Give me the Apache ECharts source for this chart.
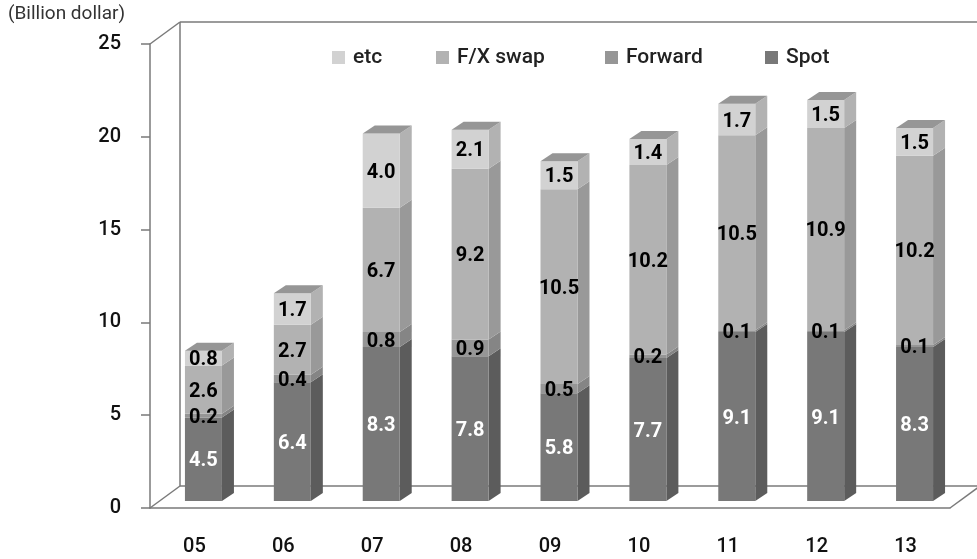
<!DOCTYPE html>
<html>
<head>
<meta charset="utf-8">
<style>
html,body{margin:0;padding:0;background:#fff}
#chart{width:977px;height:559px}
</style>
<script src="https://cdn.jsdelivr.net/npm/echarts@6/dist/echarts.min.js"></script>
</head>
<body>
<div id="chart"></div>
<script>
const years = ['05','06','07','08','09','10','11','12','13'];
const spot = [4.5,6.4,8.3,7.8,5.8,7.7,9.1,9.1,8.3];
const forward = [0.2,0.4,0.8,0.9,0.5,0.2,0.1,0.1,0.1];
const swap = [2.6,2.7,6.7,9.2,10.5,10.2,10.5,10.9,10.2];
const etc = [0.8,1.7,4.0,2.1,1.5,1.4,1.7,1.5,1.5];

const AXIS_GREY = '#7a7a7a';
const FONT = 'Roboto, "Noto Sans", sans-serif';
// floor depth of the fake 3d box, and where the bars sit in it
const WALL_DX = 30, WALL_DY = -22;
const BAR_DX = 9, BAR_DY = -7, BAR_W = 37, SIDE_DX = 12, SIDE_DY = -8;

const chart = echarts.init(document.querySelector('#chart'));

// back wall and floor, drawn from the grid rect
function renderFrame(params, api) {
    const r = params.coordSys;
    const l = r.x, t = r.y, b = r.y + r.height, e = r.x + r.width;
    const line = (x1, y1, x2, y2) => ({
        type: 'line',
        shape: {x1, y1, x2, y2},
        style: {stroke: AXIS_GREY, lineWidth: 1.5}
    });
    return {
        type: 'group',
        children: [
            line(l, t, l + WALL_DX, t + WALL_DY),
            line(l + WALL_DX, t + WALL_DY, e + WALL_DX, t + WALL_DY),
            line(l + WALL_DX, t + WALL_DY, l + WALL_DX, b + WALL_DY),
            line(l + WALL_DX, b + WALL_DY, e + WALL_DX, b + WALL_DY),
            line(l, b, l + WALL_DX, b + WALL_DY),
            line(e, b, e + WALL_DX, b + WALL_DY)
        ]
    };
}

function barRenderer(front, side, textColor, withCap) {
    return function (params, api) {
        const p0 = api.coord([api.value(0), api.value(1)]);
        const p1 = api.coord([api.value(0), api.value(2)]);
        const x1 = p0[0] + BAR_DX - BAR_W / 2, x2 = x1 + BAR_W;
        const y0 = p0[1] + BAR_DY, y1 = p1[1] + BAR_DY;
        const children = [
            {
                type: 'polygon',
                shape: {points: [[x2, y0], [x2 + SIDE_DX, y0 + SIDE_DY], [x2 + SIDE_DX, y1 + SIDE_DY], [x2, y1]]},
                style: {fill: side}
            },
            {
                type: 'rect',
                shape: {x: x1, y: y1, width: BAR_W, height: y0 - y1},
                style: {fill: front}
            },
            {
                type: 'text',
                z2: 100,
                style: {
                    x: (x1 + x2) / 2,
                    y: (y0 + y1) / 2 + 2,
                    text: api.value(3).toFixed(1),
                    fill: textColor,
                    font: '700 20px ' + FONT,
                    align: 'center',
                    verticalAlign: 'middle'
                }
            }
        ];
        if (withCap) {
            children.push({
                type: 'polygon',
                shape: {points: [[x1, y1], [x1 + SIDE_DX, y1 + SIDE_DY], [x2 + SIDE_DX, y1 + SIDE_DY], [x2, y1]]},
                style: {fill: '#969696'}
            });
        }
        return {type: 'group', children};
    };
}

// [category, bottom of segment, top of segment, value]
function stacked(values, below) {
    return values.map((v, i) => {
        const base = below.reduce((s, arr) => s + arr[i], 0);
        return [i, base, base + v, v];
    });
}

function segment(name, values, below, front, side, textColor, withCap) {
    return {
        name,
        type: 'custom',
        z: 3,
        clip: false,
        silent: true,
        itemStyle: {color: front},
        encode: {x: 0, y: 2},
        data: stacked(values, below),
        renderItem: barRenderer(front, side, textColor, withCap)
    };
}

function legendAt(name, left) {
    return {
        data: [name],
        left,
        top: 42,
        icon: 'rect',
        itemWidth: 13,
        itemHeight: 13,
        selectedMode: false,
        textStyle: {color: '#222', fontSize: 21, fontFamily: FONT, fontWeight: 500, padding: [0, 0, 0, 3]}
    };
}

chart.setOption({
    animation: false,
    backgroundColor: '#fff',
    title: {
        text: '(Billion dollar)',
        left: 8,
        top: 5,
        padding: 0,
        textStyle: {color: '#333', fontSize: 19, fontWeight: 400, fontFamily: FONT}
    },
    legend: [
        legendAt('etc', 327),
        legendAt('F/X swap', 431),
        legendAt('Forward', 600),
        legendAt('Spot', 760)
    ],
    grid: {left: 150, right: 27, top: 44, bottom: 51},
    xAxis: {
        type: 'category',
        data: years,
        axisLine: {lineStyle: {color: AXIS_GREY, width: 1.5}},
        axisTick: {length: 9, lineStyle: {color: AXIS_GREY, width: 1.5}},
        axisLabel: {color: '#111', fontSize: 20, fontWeight: 500, fontFamily: FONT, margin: 29}
    },
    yAxis: {
        type: 'value',
        min: 0,
        max: 25,
        interval: 5,
        splitLine: {show: false},
        axisLine: {show: true, lineStyle: {color: AXIS_GREY, width: 1.5}},
        axisTick: {show: true, length: 9, lineStyle: {color: AXIS_GREY, width: 1.5}},
        axisLabel: {color: '#111', fontSize: 20, fontWeight: 500, fontFamily: FONT, margin: 29, padding: [4, 0, 0, 0]}
    },
    series: [
        {
            type: 'custom',
            z: 1,
            clip: false,
            silent: true,
            data: [[0, 0]],
            renderItem: renderFrame
        },
        segment('Spot', spot, [], '#787878', '#5c5c5c', '#fff', false),
        segment('Forward', forward, [spot], '#969696', '#858585', '#000', false),
        segment('F/X swap', swap, [spot, forward], '#b2b2b2', '#999999', '#000', false),
        segment('etc', etc, [spot, forward, swap], '#d2d2d2', '#b2b2b2', '#000', true)
    ]
});
</script>
</body>
</html>
